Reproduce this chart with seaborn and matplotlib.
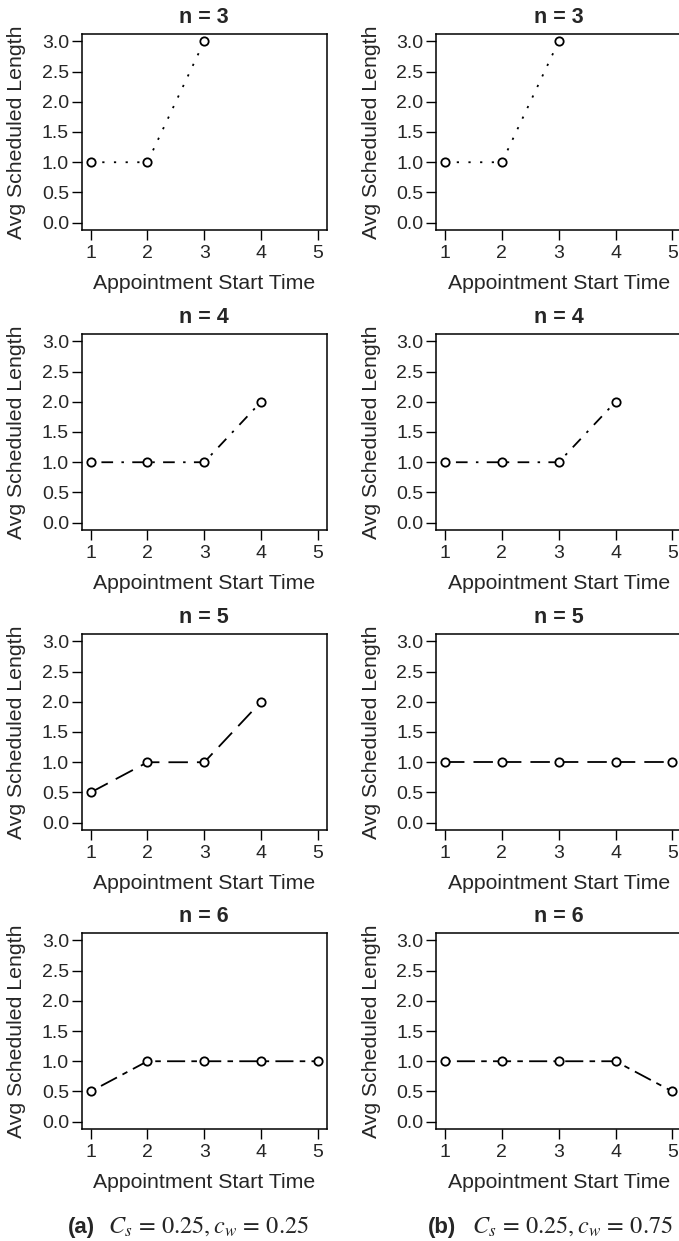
import pandas as pd
import seaborn as sns
import matplotlib.pyplot as plt

# data
times = [1, 2, 3, 4, 5]
n_values = [3, 4, 5, 6]
left_series = {
    3: [1.0, 1.0, 3.0],
    4: [1.0, 1.0, 1.0, 2.0],
    5: [0.5, 1.0, 1.0, 2.0],
    6: [0.5, 1.0, 1.0, 1.0, 1.0],
}
right_series = {
    3: [1.0, 1.0, 3.0],
    4: [1.0, 1.0, 1.0, 2.0],
    5: [1.0, 1.0, 1.0, 1.0, 1.0],
    6: [1.0, 1.0, 1.0, 1.0, 0.5],
}
captions = [("(a)", r"$C_s\,=\,0.25, c_w\,=\,0.25$"),
            ("(b)", r"$C_s\,=\,0.25, c_w\,=\,0.75$")]

# R style line types (in points)
line_styles = {
    3: (0, (1.6, 6.8)),
    4: (0, (1.8, 6.0, 8.4, 6.0)),
    5: (0, (14.0, 6.5)),
    6: (0, (4.0, 4.5, 13.0, 4.5)),
}

sns.set_style("ticks")
plt.rcParams["font.family"] = ["Liberation Sans", "DejaVu Sans"]
plt.rcParams["mathtext.fontset"] = "stix"
plt.rcParams["lines.scale_dashes"] = False

W, H = 679, 1241
fig = plt.figure(figsize=(W / 100, H / 100), dpi=100)

col_left = [81.5, 436]
row_top = [34, 334, 634, 933]
box_w, box_h = 245.5, 196

for c, series in enumerate([left_series, right_series]):
    for r, n in enumerate(n_values):
        ax = fig.add_axes([col_left[c] / W, 1 - (row_top[r] + box_h) / H,
                           box_w / W, box_h / H])
        vals = series[n]
        df = pd.DataFrame({"t": times[:len(vals)], "v": vals})
        sns.lineplot(data=df, x="t", y="v", ax=ax, color="black",
                     linestyle=line_styles[n], linewidth=1.3,
                     dash_capstyle="butt", marker="o", markersize=6,
                     markerfacecolor="white", markeredgecolor="black",
                     markeredgewidth=1.3, errorbar=None)
        ax.set_xlim(0.84, 5.16)
        ax.set_ylim(-0.12, 3.12)
        ax.set_xticks(times)
        ax.set_yticks([0, 0.5, 1.0, 1.5, 2.0, 2.5, 3.0])
        ax.set_yticklabels(["0.0", "0.5", "1.0", "1.5", "2.0", "2.5", "3.0"])
        ax.tick_params(axis="both", length=7.5, width=1.0, color="black",
                       labelsize=14, direction="out")
        ax.tick_params(axis="y", pad=1.5)
        ax.tick_params(axis="x", pad=3)
        for s in ax.spines.values():
            s.set_linewidth(1.1)
            s.set_color("black")
        ax.set_title(f"n = {n}", fontsize=15.5, fontweight="bold", pad=8)
        ax.set_xlabel("Appointment Start Time", fontsize=15.3)
        ax.set_ylabel("Avg Scheduled Length", fontsize=15.3)
        ax.xaxis.set_label_coords(0.5, -0.225)
        ax.yaxis.set_label_coords(-0.225, 0.5)

# captions under each column
cap_x = [(68, 108), (428, 472)]
for (tag, formula), (x1, x2) in zip(captions, cap_x):
    fig.text(x1 / W, 1 - 1233 / H, tag, fontsize=16, fontweight="bold",
             va="baseline", ha="left")
    fig.text(x2 / W, 1 - 1233 / H, formula, fontsize=17.5,
             va="baseline", ha="left")

fig.savefig("out.png", dpi=100)
